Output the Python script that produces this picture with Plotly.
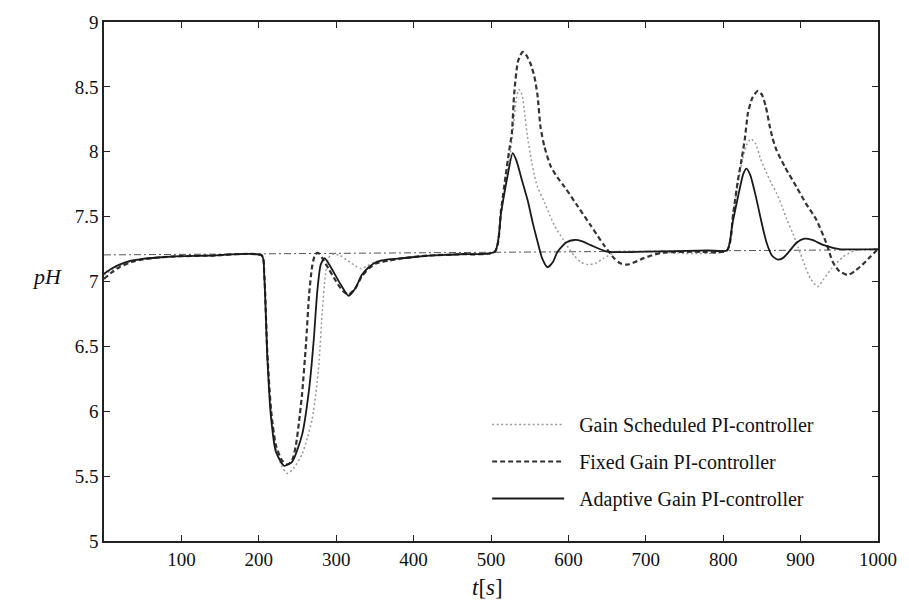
import plotly.graph_objects as go

# ---- data ----
t_adaptive = [0, 10, 20, 35, 50, 70, 100, 140, 204, 207, 211, 215.5, 222, 232.6, 243, 256, 265, 271, 275.5, 280, 285,
              294, 305.5, 316, 325, 333, 342, 352, 367, 387, 420, 460, 505, 513, 521, 528, 533, 540, 547.6, 554,
              560, 566, 573, 580, 586, 597, 607.5, 618, 629, 650, 700, 780, 805, 812, 819, 826, 830, 835, 842,
              849, 856, 863, 870, 877, 885, 895, 905, 915, 930, 950, 1000]
ph_adaptive = [7.06, 7.10, 7.13, 7.16, 7.175, 7.185, 7.195, 7.2, 7.2, 7.05, 6.42, 5.97, 5.69, 5.58, 5.61, 5.82, 6.17,
               6.55, 6.92, 7.13, 7.18, 7.1, 6.98, 6.89, 6.95, 7.05, 7.11, 7.15, 7.17, 7.18, 7.2, 7.21, 7.23, 7.53,
               7.8, 7.99, 7.93, 7.78, 7.62, 7.45, 7.31, 7.18, 7.11, 7.15, 7.23, 7.3, 7.32, 7.31, 7.28, 7.23, 7.23,
               7.24, 7.24, 7.45, 7.65, 7.83, 7.87, 7.82, 7.66, 7.47, 7.3, 7.2, 7.17, 7.18, 7.23, 7.3, 7.33, 7.32,
               7.28, 7.25, 7.25]

t_fixed = [0, 10, 20, 35, 50, 70, 100, 140, 204, 207, 211, 216, 222, 230, 237, 243, 248, 252, 256, 261, 265, 269,
           273, 277, 282, 290, 300, 308, 316, 325, 333, 342, 352, 367, 387, 420, 460, 505, 513, 519, 523, 527,
           530, 535, 541, 546, 551, 556, 560, 564, 569, 577, 586, 595, 612, 629, 646, 659, 667, 676, 686, 697.5,
           719, 760, 805, 813, 819, 824, 828, 832, 838, 845, 850, 855, 860, 864, 869, 880, 894.6, 907, 920, 933,
           941.6, 950, 961, 970, 980, 990, 1000]
ph_fixed = [7.02, 7.07, 7.11, 7.15, 7.17, 7.185, 7.195, 7.2, 7.2, 7.06, 6.45, 6.0, 5.74, 5.62, 5.59, 5.62, 5.74,
            5.92, 6.14, 6.52, 6.9, 7.12, 7.21, 7.22, 7.18, 7.1, 7.0, 6.93, 6.9, 6.95, 7.04, 7.1, 7.14, 7.16, 7.18,
            7.2, 7.21, 7.23, 7.55, 7.82, 7.99, 8.15, 8.45, 8.7, 8.77, 8.74, 8.68, 8.58, 8.44, 8.19, 8.04, 7.89,
            7.8, 7.73, 7.58, 7.43, 7.28, 7.18, 7.14, 7.13, 7.15, 7.18, 7.22, 7.23, 7.24, 7.53, 7.78, 7.95, 8.1,
            8.3, 8.42, 8.47, 8.44, 8.35, 8.2, 8.1, 8.01, 7.88, 7.73, 7.6, 7.48, 7.3, 7.15, 7.08, 7.05, 7.08, 7.13,
            7.19, 7.25]

t_scheduled = [0, 10, 20, 35, 50, 70, 100, 140, 204, 207, 211, 216, 223, 230, 237, 245, 256, 263, 269, 274, 278,
               282, 286, 290, 295, 305, 315, 325, 332, 340, 350, 367, 387, 420, 460, 505, 513, 520, 525, 529, 533,
               536, 540, 543, 547, 552, 556, 560, 569, 576, 582, 592.5, 600, 607.5, 616, 625, 635, 646, 663, 700,
               805, 813, 819, 824, 830, 836, 842, 848, 855, 862, 869, 876, 882, 890, 897, 905, 913, 922, 930, 940,
               955, 971, 1000]
ph_scheduled = [7.05, 7.09, 7.12, 7.155, 7.17, 7.185, 7.195, 7.2, 7.2, 7.05, 6.45, 5.98, 5.7, 5.57, 5.52, 5.56,
                5.67, 5.8, 5.94, 6.15, 6.39, 6.77, 7.05, 7.18, 7.21, 7.2, 7.16, 7.12, 7.1, 7.12, 7.15, 7.17, 7.18,
                7.2, 7.21, 7.23, 7.53, 7.8, 7.99, 8.2, 8.42, 8.48, 8.44, 8.32, 8.12, 7.94, 7.82, 7.73, 7.61, 7.51,
                7.43, 7.33, 7.26, 7.2, 7.15, 7.13, 7.14, 7.18, 7.23, 7.23, 7.24, 7.52, 7.75, 7.92, 8.05, 8.1, 8.06,
                7.95, 7.85, 7.76, 7.68, 7.58, 7.48, 7.37, 7.26, 7.13, 7.02, 6.96, 7.02, 7.1, 7.19, 7.24, 7.25]

t_setpoint = [0, 1000]
ph_setpoint = [7.205, 7.245]

x_ticks = [100, 200, 300, 400, 500, 600, 700, 800, 900, 1000]
y_ticks = [5, 5.5, 6, 6.5, 7, 7.5, 8, 8.5, 9]

names = ["Gain Scheduled PI-controller", "Fixed Gain PI-controller", "Adaptive Gain PI-controller"]

SERIF = "Liberation Serif, DejaVu Serif, serif"
PAD = "\u00a0\u00a0"

fig = go.Figure()
fig.add_trace(go.Scatter(x=t_setpoint, y=ph_setpoint, mode="lines", showlegend=False,
                         line=dict(color="#555555", width=1, dash="7px,3px,2px,3px")))
fig.add_trace(go.Scatter(x=t_scheduled, y=ph_scheduled, mode="lines", name=PAD + names[0], legendgroup="a",
                         line=dict(color="#9a9a9a", width=1.5, dash="2px,2.5px", shape="spline", smoothing=0.6)))
fig.add_trace(go.Scatter(x=t_fixed, y=ph_fixed, mode="lines", name=PAD + names[1], legendgroup="b",
                         line=dict(color="#333333", width=2.2, dash="5px,3px", shape="spline", smoothing=0.6)))
fig.add_trace(go.Scatter(x=t_adaptive, y=ph_adaptive, mode="lines", name=PAD + names[2], legendgroup="c",
                         line=dict(color="#1a1a1a", width=1.8, shape="spline", smoothing=0.6)))

axis_common = dict(showline=True, linecolor="#222222", linewidth=1.5, mirror="ticks", ticks="inside",
                   ticklen=6, tickcolor="#222222", tickwidth=1.3, showgrid=False, zeroline=False,
                   tickfont=dict(family=SERIF, size=19, color="#111111"))

fig.update_layout(
    width=909, height=609,
    margin=dict(l=104, r=27, t=13, b=68),
    paper_bgcolor="white", plot_bgcolor="white",
    xaxis=dict(range=[0, 1000], tickvals=x_ticks, ticktext=[str(v) for v in x_ticks], **axis_common),
    yaxis=dict(range=[5, 9], tickvals=y_ticks, ticktext=[f"{v:g}" for v in y_ticks], **axis_common),
    showlegend=True,
    legend=dict(x=0.495, y=0.262, xanchor="left", yanchor="top", bgcolor="rgba(0,0,0,0)",
                font=dict(family=SERIF, size=20, color="#111111"), itemwidth=72, tracegroupgap=8),
    annotations=[
        dict(text="<i>pH</i>", x=-0.095, y=0.51, xref="paper", yref="paper", showarrow=False,
             font=dict(family=SERIF, size=22, color="#111111")),
        dict(text="<i>t</i>[<i>s</i>]", x=0.495, y=-0.09, xref="paper", yref="paper", showarrow=False,
             xanchor="center", yanchor="middle", font=dict(family=SERIF, size=23, color="#111111")),
    ],
)

fig.write_html("out.html")
